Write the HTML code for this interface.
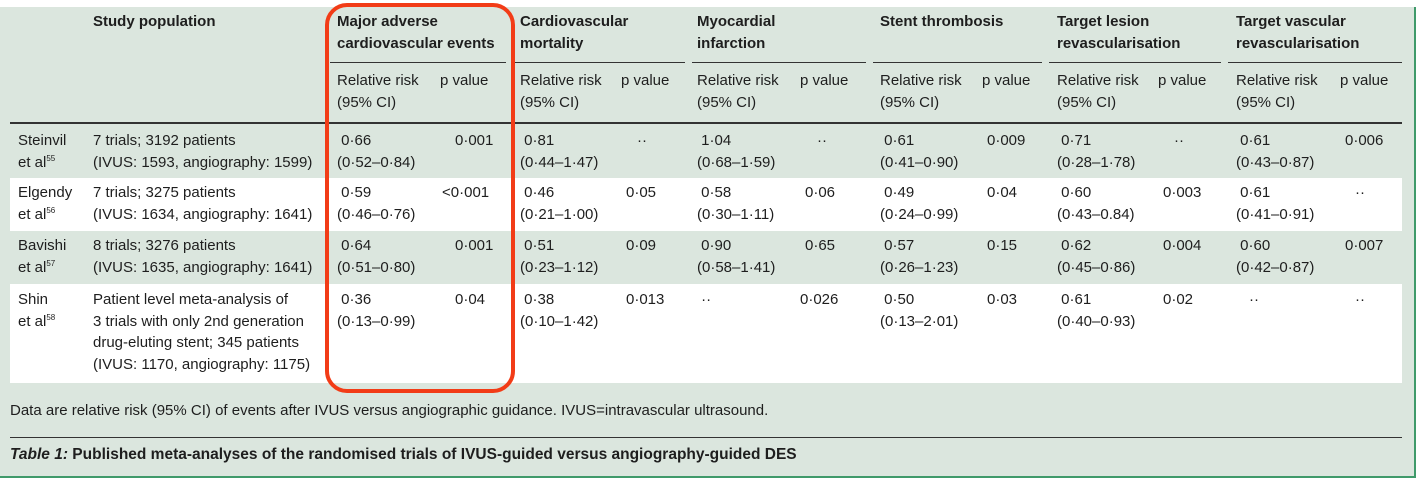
<!DOCTYPE html>
<html><head><meta charset="utf-8"><style>
body{margin:0;width:1417px;height:479px;background:#fff;position:relative;overflow:hidden;font-family:"Liberation Sans",sans-serif;color:#1e1e1e;font-size:15px;}
.panel{position:absolute;left:0;top:7px;width:1414px;height:469px;background:#dbe6de;border-right:2px solid #3f9a6a;border-bottom:2px solid #3f9a6a;}
.w{position:absolute;left:10px;width:1392px;background:#fff;}
.t{position:absolute;line-height:21.5px;white-space:nowrap;}
.b{font-weight:bold;}
.hl{position:absolute;height:1px;background:#333;}
sup{font-size:8px;vertical-align:6px;line-height:0;}
.red{position:absolute;left:325px;top:3px;width:182px;height:382px;border:4px solid #f23c17;border-radius:22px;}
</style></head><body>
<div class="panel"></div>
<div class="w" style="top:178px;height:53px"></div>
<div class="w" style="top:284px;height:99px"></div>
<div class="hl" style="left:330px;width:176px;top:62px"></div>
<div class="hl" style="left:513px;width:172px;top:62px"></div>
<div class="hl" style="left:692px;width:174px;top:62px"></div>
<div class="hl" style="left:873px;width:169px;top:62px"></div>
<div class="hl" style="left:1049px;width:172px;top:62px"></div>
<div class="hl" style="left:1228px;width:174px;top:62px"></div>
<div class="hl" style="left:10px;width:1392px;top:122px;height:1.5px"></div>
<div class="hl" style="left:10px;width:1392px;top:437px"></div>

<div class="t b" style="left:93px;top:11px">Study population</div>
<div class="t b" style="left:337px;top:11px">Major adverse<br>cardiovascular events</div>
<div class="t b" style="left:520px;top:11px">Cardiovascular<br>mortality</div>
<div class="t b" style="left:697px;top:11px">Myocardial<br>infarction</div>
<div class="t b" style="left:880px;top:11px">Stent thrombosis</div>
<div class="t b" style="left:1057px;top:11px">Target lesion<br>revascularisation</div>
<div class="t b" style="left:1236px;top:11px">Target vascular<br>revascularisation</div>

<div class="t" style="left:337px;top:70px">Relative risk<br>(95% CI)</div><div class="t" style="left:440px;top:70px">p value</div>
<div class="t" style="left:520px;top:70px">Relative risk<br>(95% CI)</div><div class="t" style="left:621px;top:70px">p value</div>
<div class="t" style="left:697px;top:70px">Relative risk<br>(95% CI)</div><div class="t" style="left:800px;top:70px">p value</div>
<div class="t" style="left:880px;top:70px">Relative risk<br>(95% CI)</div><div class="t" style="left:982px;top:70px">p value</div>
<div class="t" style="left:1057px;top:70px">Relative risk<br>(95% CI)</div><div class="t" style="left:1158px;top:70px">p value</div>
<div class="t" style="left:1236px;top:70px">Relative risk<br>(95% CI)</div><div class="t" style="left:1340px;top:70px">p value</div>

<div class="t" style="left:18px;top:130px">Steinvil<br>et al<sup>55</sup></div>
<div class="t" style="left:93px;top:130px">7 trials; 3192 patients<br>(IVUS: 1593, angiography: 1599)</div>
<div class="t" style="left:337px;top:130px">&nbsp;0·66<br>(0·52–0·84)</div><div class="t" style="left:455px;top:130px">0·001</div>
<div class="t" style="left:520px;top:130px">&nbsp;0·81<br>(0·44–1·47)</div><div class="t" style="left:637px;top:130px">··</div>
<div class="t" style="left:697px;top:130px">&nbsp;1·04<br>(0·68–1·59)</div><div class="t" style="left:817px;top:130px">··</div>
<div class="t" style="left:880px;top:130px">&nbsp;0·61<br>(0·41–0·90)</div><div class="t" style="left:987px;top:130px">0·009</div>
<div class="t" style="left:1057px;top:130px">&nbsp;0·71<br>(0·28–1·78)</div><div class="t" style="left:1174px;top:130px">··</div>
<div class="t" style="left:1236px;top:130px">&nbsp;0·61<br>(0·43–0·87)</div><div class="t" style="left:1345px;top:130px">0·006</div>

<div class="t" style="left:18px;top:182px">Elgendy<br>et al<sup>56</sup></div>
<div class="t" style="left:93px;top:182px">7 trials; 3275 patients<br>(IVUS: 1634, angiography: 1641)</div>
<div class="t" style="left:337px;top:182px">&nbsp;0·59<br>(0·46–0·76)</div><div class="t" style="left:442px;top:182px">&lt;0·001</div>
<div class="t" style="left:520px;top:182px">&nbsp;0·46<br>(0·21–1·00)</div><div class="t" style="left:626px;top:182px">0·05</div>
<div class="t" style="left:697px;top:182px">&nbsp;0·58<br>(0·30–1·11)</div><div class="t" style="left:805px;top:182px">0·06</div>
<div class="t" style="left:880px;top:182px">&nbsp;0·49<br>(0·24–0·99)</div><div class="t" style="left:987px;top:182px">0·04</div>
<div class="t" style="left:1057px;top:182px">&nbsp;0·60<br>(0·43–0.84)</div><div class="t" style="left:1163px;top:182px">0·003</div>
<div class="t" style="left:1236px;top:182px">&nbsp;0·61<br>(0·41–0·91)</div><div class="t" style="left:1355px;top:182px">··</div>

<div class="t" style="left:18px;top:235px">Bavishi<br>et al<sup>57</sup></div>
<div class="t" style="left:93px;top:235px">8 trials; 3276 patients<br>(IVUS: 1635, angiography: 1641)</div>
<div class="t" style="left:337px;top:235px">&nbsp;0·64<br>(0·51–0·80)</div><div class="t" style="left:455px;top:235px">0·001</div>
<div class="t" style="left:520px;top:235px">&nbsp;0·51<br>(0·23–1·12)</div><div class="t" style="left:626px;top:235px">0·09</div>
<div class="t" style="left:697px;top:235px">&nbsp;0·90<br>(0·58–1·41)</div><div class="t" style="left:805px;top:235px">0·65</div>
<div class="t" style="left:880px;top:235px">&nbsp;0·57<br>(0·26–1·23)</div><div class="t" style="left:987px;top:235px">0·15</div>
<div class="t" style="left:1057px;top:235px">&nbsp;0·62<br>(0·45–0·86)</div><div class="t" style="left:1163px;top:235px">0·004</div>
<div class="t" style="left:1236px;top:235px">&nbsp;0·60<br>(0·42–0·87)</div><div class="t" style="left:1345px;top:235px">0·007</div>

<div class="t" style="left:18px;top:289px">Shin<br>et al<sup>58</sup></div>
<div class="t" style="left:93px;top:289px">Patient level meta-analysis of<br>3 trials with only 2nd generation<br>drug-eluting stent; 345 patients<br>(IVUS: 1170, angiography: 1175)</div>
<div class="t" style="left:337px;top:289px">&nbsp;0·36<br>(0·13–0·99)</div><div class="t" style="left:455px;top:289px">0·04</div>
<div class="t" style="left:520px;top:289px">&nbsp;0·38<br>(0·10–1·42)</div><div class="t" style="left:626px;top:289px">0·013</div>
<div class="t" style="left:697px;top:289px">&nbsp;··</div><div class="t" style="left:800px;top:289px">0·026</div>
<div class="t" style="left:880px;top:289px">&nbsp;0·50<br>(0·13–2·01)</div><div class="t" style="left:987px;top:289px">0·03</div>
<div class="t" style="left:1057px;top:289px">&nbsp;0·61<br>(0·40–0·93)</div><div class="t" style="left:1163px;top:289px">0·02</div>
<div class="t" style="left:1249px;top:289px">··</div><div class="t" style="left:1355px;top:289px">··</div>

<div class="t" style="left:10px;top:400px;font-size:15px">Data are relative risk (95% CI) of events after IVUS versus angiographic guidance. IVUS=intravascular ultrasound.</div>
<div class="t b" style="left:10px;top:444px;font-size:15.5px"><i>Table 1:</i> Published meta-analyses of the randomised trials of IVUS-guided versus angiography-guided DES</div>

<div class="red"></div>
</body></html>
